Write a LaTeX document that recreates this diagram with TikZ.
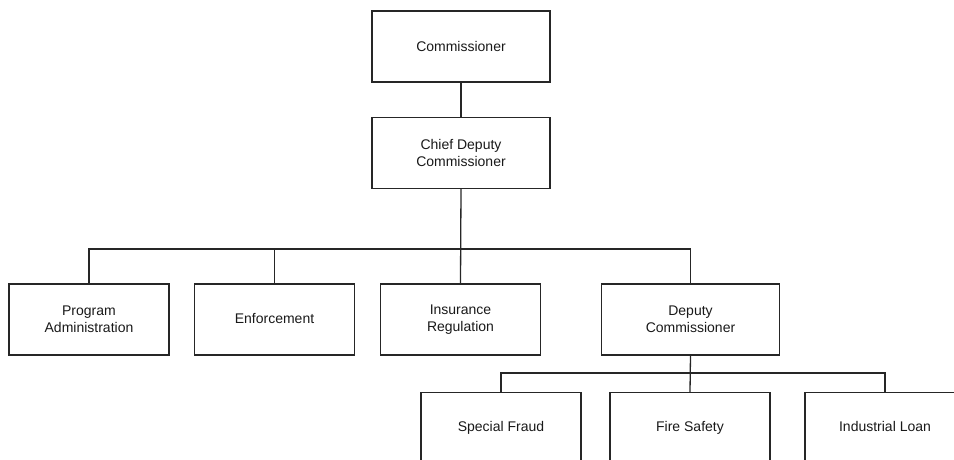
\documentclass[tikz,border=0pt]{standalone}
\usepackage{fontspec}
\setmainfont{Liberation Sans}
\begin{document}
\begin{tikzpicture}[x=1pt,y=-1pt,
  box/.style={draw=black!85,line width=1.3pt,rectangle,align=center,inner sep=0pt,
    font=\fontsize{14}{17}\selectfont,text=black!90},
  wide/.style={box,minimum width=178pt,minimum height=71pt},
  unit/.style={box,minimum width=160pt,minimum height=71pt},
  oneline/.style={unit,text height=10pt,text depth=3pt},
  link/.style={draw=black!85,line width=1.3pt}]
\useasboundingbox (0,0) rectangle (954,460);
\clip (0,0) rectangle (954,460);
\node[wide] (com) at (461,46.5) {Commissioner};
\node[wide] (chief) at (461,153) {Chief Deputy\\Commissioner};
\node[unit] (prog) at (89,319.5) {Program\\Administration};
\node[oneline] (enf) at (274.5,319.5) {Enforcement};
\node[unit] (ins) at (460.5,319.5) {Insurance\\Regulation};
\node[wide] (dep) at (690.5,319.5) {Deputy\\Commissioner};
\node[oneline] (fraud) at (501,428) {Special Fraud};
\node[oneline] (fire) at (690,428) {Fire Safety};
\node[oneline] (loan) at (885,428) {Industrial Loan};
\coordinate (bus) at (460.5,249);
\coordinate (bus2) at (690,373);
\draw[link] (com) -- (chief);
\draw[link] (chief.south) -- (ins.north);
\draw[link] (prog.north) |- (bus) -| (dep.north);
\draw[link] (enf.north) -- (enf.north |- bus);
\draw[link] (dep.south) -- (fire.north);
\draw[link] (fraud.north) |- (bus2) -| (loan.north);
\draw[link,line width=2pt] (266,249) -- (284,249);
\draw[link,line width=2pt] (372,249) -- (383,249);
\end{tikzpicture}
\end{document}
